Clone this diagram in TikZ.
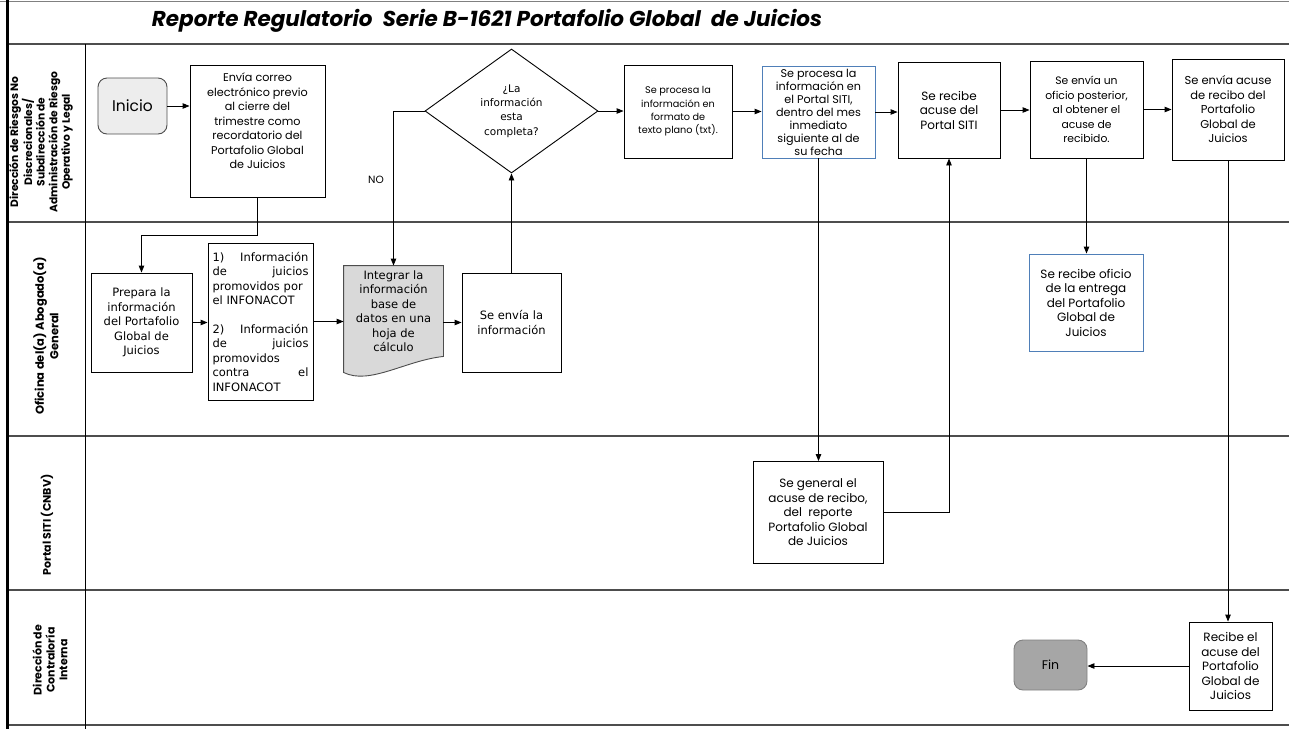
\documentclass[tikz,border=0pt]{standalone}
\usepackage{fontspec}
\setmainfont{Poppins}
\newfontfamily\dvs{DejaVu Sans}
\usetikzlibrary{shapes.geometric,arrows.meta,calc}
\definecolor{bblue}{HTML}{4F7FB8}
\definecolor{inifill}{HTML}{EDEDED}
\definecolor{docfill}{HTML}{D9D9D9}
\definecolor{finfill}{HTML}{A6A6A6}
\definecolor{sepgray}{HTML}{4D4D4D}
\newcommand{\fs}[1]{\fontsize{#1}{14.5}\selectfont}
\begin{document}
\begin{tikzpicture}[x=1pt,y=-1pt,
  box/.style={draw=black, line width=0.9pt, align=center, inner sep=0pt,
    font=\fs{11}},
  bluebox/.style={box, draw=bblue},
  dbox/.style={box, font=\dvs\fontsize{11.5}{14.5}\selectfont},
  plain/.style={align=center, inner sep=0pt},
  arr/.style={-{Triangle[length=7pt,width=5.5pt]}, line width=0.9pt},
  lane/.style={rotate=90, align=center, font=\bfseries\fontsize{11}{12.8}\selectfont},
  sep/.style={draw=sepgray, line width=1.3pt}]
\useasboundingbox (0,0) rectangle (1289,729);

% frame and lanes
\draw[sep, draw=gray] (0,1.5) -- (1289,1.5);
\draw[sep] (7,44) -- (1289,44);
\draw[sep] (7,222) -- (1289,222);
\draw[sep] (7,436) -- (1289,436);
\draw[sep] (7,590) -- (1289,590);
\draw[sep] (7,725) -- (1289,725);
\draw[line width=3pt] (7,0) -- (7,729);
\draw[line width=1pt] (85,44) -- (85,729);

% title
\node[font=\bfseries\itshape\fontsize{21.5}{24}\selectfont] (title) at (487,21)
  {Reporte Regulatorio\ \ Serie B-1621 Portafolio Global\ \ de Juicios};

% lane labels
\node[lane, font=\bfseries\fontsize{10.7}{12.6}\selectfont] (l1) at (41,142) {Dirección de Riesgos No\\Discrecionales/\\Subdirección de\\Administración de Riesgo\\Operativo y Legal};
\node[lane, font=\bfseries\fontsize{11.5}{14.5}\selectfont] (l2) at (46,336) {Oficina del(a) Abogado(a)\\General};
\node[lane] (l3) at (47,525) {Portal SITI (CNBV)};
\node[lane] (l4) at (50,660) {Dirección de\\Contraloría\\Interna};

% lane 1
\node[box, rounded corners=9pt, fill=inifill, draw=sepgray, minimum width=69pt, minimum height=56pt,
  font=\fontsize{15.5}{17}\selectfont] (ini) at (132.5,106) {Inicio};
\node[box, minimum width=135pt, minimum height=132pt] (envia) at (257.5,131) {};
\node[plain, font=\fs{11.2}] (enviat) at (257.5,121)
  {Envía correo\\electrónico previo\\al cierre del\\trimestre como\\recordatorio del\\Portafolio Global\\de Juicios};
\node[box, shape=diamond, minimum width=173pt, minimum height=124pt, font=\dvs\fontsize{10.5}{14.2}\selectfont]
  (dia) at (511.5,111) {¿La\\información\\esta\\completa?};
\node[box, minimum width=108pt, minimum height=93pt, font=\fontsize{9.7}{13.3}\selectfont] (txt) at (678,111.5)
  {Se procesa la\\información en\\formato de\\texto plano (txt).};
\node[bluebox, minimum width=113pt, minimum height=92pt, font=\fontsize{11.2}{13}\selectfont] (siti) at (818.5,112)
  {Se procesa la\\información en\\el Portal SITI,\\dentro del mes\\inmediato\\siguiente al de\\su fecha};
\node[box, minimum width=102pt, minimum height=96pt, font=\fs{12}] (recibe) at (949,110)
  {Se recibe\\acuse del\\Portal SITI};
\node[box, minimum width=113pt, minimum height=97pt, font=\fs{10.8}] (oficio) at (1086.5,109.5)
  {Se envía un\\oficio posterior,\\al obtener el\\acuse de\\recibido.};
\node[box, minimum width=112pt, minimum height=101pt, font=\fs{11.5}] (acuse) at (1228,109.5)
  {Se envía acuse\\de recibo del\\Portafolio\\Global de\\Juicios};
\node[font=\fontsize{10.5}{12}\selectfont] (no) at (376,180) {NO};

% lane 2
\node[dbox, minimum width=101pt, minimum height=99pt] (prep) at (141.5,322.5)
  {Prepara la\\información\\del Portafolio\\Global de\\Juicios};
\node[dbox, align=left, minimum width=105pt, minimum height=157pt, text width=96pt] (info) at (260.5,321.5)
  {1)\hfill Información\\de\hfill juicios\\promovidos por\\el INFONACOT\\[14pt]2)\hfill Información\\de\hfill juicios\\promovidos\\contra\hfill el\\INFONACOT};
\node[dbox, draw=none, minimum width=99pt, minimum height=90pt] (doc) at (393.5,311) {};
\draw[line width=0.9pt, fill=docfill, draw=sepgray] (doc.south east) -- (doc.north east) -- (doc.north west)
  -- ($(doc.south west)+(0,16)$) .. controls +(26,13) and +(-38,4) .. (doc.south east) -- cycle;
\node[plain, font=\dvs\fontsize{11.5}{14.5}\selectfont] (doct) at (393.5,311)
  {Integrar la\\información\\base de\\datos en una\\hoja de\\cálculo};
\node[dbox, minimum width=99pt, minimum height=99pt] (envio) at (511.5,322.5)
  {Se envía la\\información};
\node[bluebox, minimum width=114pt, minimum height=97pt, font=\fs{12}] (ofrec) at (1086,302.5)
  {Se recibe oficio\\de la entrega\\del Portafolio\\Global de\\Juicios};

% lane 3
\node[box, minimum width=130pt, minimum height=102pt, font=\fs{12}] (gen) at (818,512.5)
  {Se general el\\acuse de recibo,\\del\ \ reporte\\Portafolio Global\\de Juicios};

% lane 4
\node[box, minimum width=83pt, minimum height=88pt, font=\fs{12}] (recac) at (1230.5,666)
  {Recibe el\\acuse del\\Portafolio\\Global de\\Juicios};
\node[box, rounded corners=9pt, fill=finfill, draw=gray, minimum width=73pt, minimum height=50pt,
  font=\fontsize{12.5}{14}\selectfont] (fin) at (1050.5,665) {Fin};

% connectors
\draw[arr] (ini.east) -- (ini.east -| envia.west);
\coordinate (b1) at (0,235);
\draw[arr] (envia.south) -- (envia.south |- b1) -| (prep.north);
\draw[arr] (prep.east) -- (prep.east -| info.west);
\draw[arr] (info.east) -- (info.east -| doc.west);
\draw[arr] (envio.west -| doc.east) -- (envio.west);
\draw[arr] (envio.north) -- (dia.south);
\draw[arr] (dia.west) -| (doc.north);
\draw[arr] (dia.east) -- (dia.east -| txt.west);
\draw[arr] (txt.east) -- (txt.east -| siti.west);
\draw[arr] (siti.east) -- (siti.east -| recibe.west);
\draw[arr] (recibe.east) -- (recibe.east -| oficio.west);
\draw[arr] (oficio.east) -- (oficio.east -| acuse.west);
\draw[arr] (siti.south) -- (siti.south |- gen.north);
\draw[arr] (gen.east) -| (recibe.south);
\draw[arr] (oficio.south) -- (oficio.south |- ofrec.north);
\draw[arr] (acuse.south) -- (acuse.south |- recac.north);
\draw[arr] (recac.west) -- (recac.west -| fin.east);
\end{tikzpicture}
\end{document}
